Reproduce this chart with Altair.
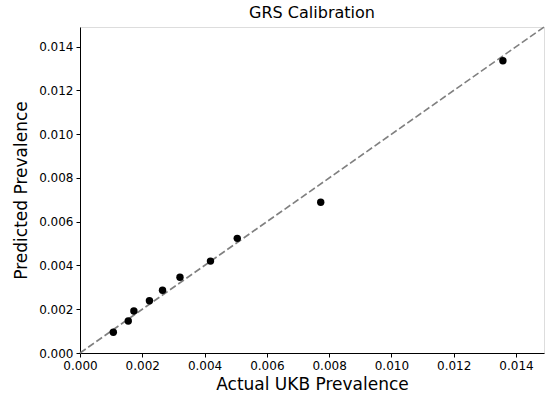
import altair as alt
import pandas as pd

actual = [0.00107, 0.00155, 0.00173, 0.00223, 0.00265, 0.00321, 0.00419, 0.00505, 0.00773, 0.01358]
predicted = [0.00095, 0.00146, 0.00192, 0.00239, 0.00287, 0.00346, 0.00420, 0.00524, 0.00689, 0.01336]
line_x = [0.0, 0.0149]
ticks = [0.0, 0.002, 0.004, 0.006, 0.008, 0.010, 0.012, 0.014]

df = pd.DataFrame({"actual": actual, "predicted": predicted})
ldf = pd.DataFrame({"x": line_x, "y": line_x})

FONT = "DejaVu Sans"
dom = [0, 0.0149]

common = dict(values=ticks, format=".3f", grid=False, tickColor="black", domainColor="black",
              labelColor="black", labelFontSize=12, labelFont=FONT, tickSize=4, labelFlush=False,
              titleFont=FONT, titleFontSize=17, titleFontWeight="normal", titleColor="black",
              labelPadding=3)
xax = alt.Axis(titlePadding=5, **common)
yax = alt.Axis(titlePadding=8, **common)

sc = alt.Scale(domain=dom, nice=False, zero=False)

line = alt.Chart(ldf).mark_line(color="gray", strokeDash=[7, 3], strokeWidth=1.6).encode(
    x=alt.X("x:Q", scale=sc, axis=xax, title="Actual UKB Prevalence"),
    y=alt.Y("y:Q", scale=sc, axis=yax, title="Predicted Prevalence"),
)

pts = alt.Chart(df).mark_circle(color="black", opacity=1, size=55).encode(
    x=alt.X("actual:Q", scale=sc, axis=xax, title="Actual UKB Prevalence"),
    y=alt.Y("predicted:Q", scale=sc, axis=yax, title="Predicted Prevalence"),
)

chart = (line + pts).properties(
    width=464, height=326,
    title=alt.TitleParams("GRS Calibration", font=FONT, fontSize=16, fontWeight="normal", color="black", offset=3),
    autosize="none",
    padding={"left": 80, "top": 27, "right": 6, "bottom": 47},
).configure_view(stroke="black", strokeWidth=1).configure(background="white")

chart.save("out.html", embed_options={"renderer": "svg", "actions": False})
